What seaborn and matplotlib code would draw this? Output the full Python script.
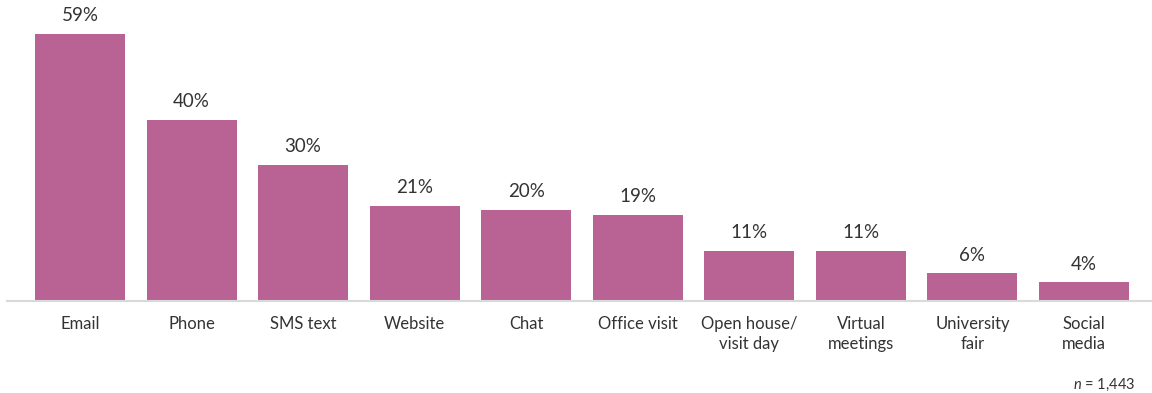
import matplotlib
matplotlib.use("Agg")
import matplotlib.pyplot as plt
import seaborn as sns
import pandas as pd

# Contact channels and share of respondents (%)
channels = ["Email", "Phone", "SMS text", "Website", "Chat", "Office visit",
            "Open house/\nvisit day", "Virtual\nmeetings", "University\nfair", "Social\nmedia"]
shares = [59, 40, 30, 21, 20, 19, 11, 11, 6, 4]
sample_note = r"$\mathit{n}$ = 1,443"

sns.set_theme(style="white")
plt.rcParams["font.family"] = ["Lato", "DejaVu Sans"]
plt.rcParams["mathtext.fontset"] = "custom"
plt.rcParams["mathtext.it"] = "Lato:italic"
plt.rcParams["mathtext.rm"] = "Lato"

text_color = "#333333"
bar_color = "#B86394"

df = pd.DataFrame({"channel": channels, "share": shares})

fig = plt.figure(figsize=(11.52, 3.93), dpi=100)
W, H = 1152, 393
left_px, right_px = 7, 1152
base_px, top_px = 300.5, 16
ax = fig.add_axes([left_px / W, (H - base_px) / H,
                   (right_px - left_px) / W, (base_px - top_px) / H])

sns.barplot(data=df, x="channel", y="share", color=bar_color, saturation=1,
            width=0.807, linewidth=0, edgecolor="none", ax=ax)

spacing = 111.56
first_center = 80
ax.set_xlim((left_px - first_center) / spacing, (right_px - first_center) / spacing)
ax.set_ylim(0, 59 * (base_px - top_px) / (base_px - 34))

for i, v in enumerate(shares):
    ax.annotate(f"{v}%", xy=(i, v), xytext=(0, 7), textcoords="offset points",
                ha="center", va="bottom", fontsize=13.5, color=text_color,
                annotation_clip=False)

for side in ["top", "right", "left"]:
    ax.spines[side].set_visible(False)
ax.spines["bottom"].set_color("#d9d9d9")
ax.spines["bottom"].set_linewidth(1.5)
ax.set_yticks([])
ax.set_xlabel("")
ax.set_ylabel("")
ax.tick_params(axis="x", length=0, pad=11, labelsize=12, labelcolor=text_color)
for lbl in ax.get_xticklabels():
    lbl.set_linespacing(1.3)

fig.text(1135 / W, 1 - 385 / H, sample_note, ha="right", va="center",
         fontsize=10.5, color=text_color)

fig.savefig("out.png", dpi=100)
